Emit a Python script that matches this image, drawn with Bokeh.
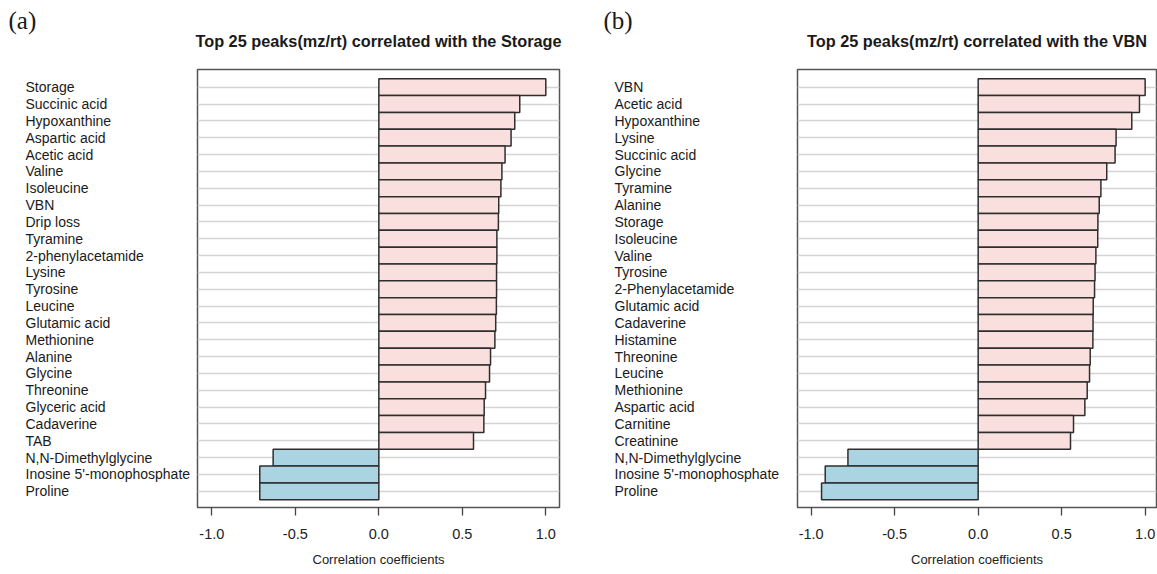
from bokeh.plotting import figure
from bokeh.models import ColumnDataSource, FixedTicker, NumeralTickFormatter, Range1d
from bokeh.layouts import row, column
from bokeh.core.properties import value
from bokeh.embed import file_html
from bokeh.resources import INLINE

# ---- data ----
storage_names = ["Storage", "Succinic acid", "Hypoxanthine", "Aspartic acid", "Acetic acid",
                 "Valine", "Isoleucine", "VBN", "Drip loss", "Tyramine", "2-phenylacetamide",
                 "Lysine", "Tyrosine", "Leucine", "Glutamic  acid", "Methionine", "Alanine",
                 "Glycine", "Threonine", "Glyceric acid", "Cadaverine", "TAB",
                 "N,N-Dimethylglycine", "Inosine 5'-monophosphate", "Proline"]
storage_values = [1.0, 0.844, 0.814, 0.792, 0.756, 0.737, 0.731, 0.718, 0.716, 0.707, 0.707,
                  0.705, 0.705, 0.704, 0.700, 0.695, 0.669, 0.663, 0.639, 0.631, 0.629, 0.567,
                  -0.633, -0.713, -0.713]

vbn_names = ["VBN", "Acetic acid", "Hypoxanthine", "Lysine", "Succinic acid", "Glycine",
             "Tyramine", "Alanine", "Storage", "Isoleucine", "Valine", "Tyrosine",
             "2-Phenylacetamide", "Glutamic  acid", "Cadaverine", "Histamine", "Threonine",
             "Leucine", "Methionine", "Aspartic acid", "Carnitine", "Creatinine",
             "N,N-Dimethylglycine", "Inosine 5'-monophosphate", "Proline"]
vbn_values = [1.0, 0.966, 0.920, 0.826, 0.820, 0.770, 0.735, 0.725, 0.717, 0.716, 0.705, 0.700,
              0.697, 0.689, 0.688, 0.687, 0.671, 0.667, 0.653, 0.639, 0.571, 0.553,
              -0.780, -0.916, -0.938]

panel_tags = ["(a)", "(b)"]
panel_titles = ["Top 25 peaks(mz/rt) correlated with the Storage",
                "Top 25 peaks(mz/rt) correlated with the VBN"]
x_ticks = [-1.0, -0.5, 0.0, 0.5, 1.0]

# ---- styling / layout ----
POS = "#F9E0DF"
NEG = "#AAD4E1"
FONT = "Liberation Sans"
STRIP_H = 55                      # header strip holding the tags and titles
TOP, FRAME_H, BOTTOM = 14, 438, 67
Y_RANGE = (0.04, 26.05)
W_LA, BL_A, FW_A, BR_A = 192, 5, 362, 24
W_LB, BL_B, FW_B, BR_B = 209, 5, 359, 1
TOTAL_W = W_LA + BL_A + FW_A + BR_A + W_LB + BL_B + FW_B + BR_B


def rows_of(names):
    n = len(names)
    return [n - i for i in range(n)]


def label_panel(names, width, label_x):
    ys = rows_of(names)
    src = ColumnDataSource(dict(name=names, y=ys, x=[label_x] * len(ys)))
    p = figure(frame_width=width, frame_height=FRAME_H,
               min_border_left=0, min_border_right=0,
               min_border_top=TOP, min_border_bottom=BOTTOM,
               x_range=Range1d(0, width), y_range=Range1d(*Y_RANGE),
               output_backend="svg", toolbar_location=None)
    p.axis.visible = False
    p.grid.visible = False
    p.outline_line_color = None
    p.text(x="x", y="y", text="name", source=src, text_align="left",
           text_baseline="middle", text_font=value(FONT), text_font_size="14px",
           text_color="#1a1a1a")
    return p


def bar_panel(names, values, border_left, frame_w, border_right, x_start, x_end):
    ys = rows_of(names)
    src = ColumnDataSource(dict(
        name=names, y=ys,
        left=[min(0.0, v) for v in values],
        right=[max(0.0, v) for v in values],
        color=[POS if v > 0 else NEG for v in values],
    ))
    p = figure(frame_width=frame_w, frame_height=FRAME_H,
               min_border_left=border_left, min_border_right=border_right,
               min_border_top=TOP, min_border_bottom=BOTTOM,
               x_range=Range1d(x_start, x_end), y_range=Range1d(*Y_RANGE),
               output_backend="svg", toolbar_location=None)

    p.hbar(y="y", left="left", right="right", height=1, fill_color="color",
           line_color="#2e2e2e", line_width=1.5, source=src)

    p.yaxis.visible = False
    p.xgrid.visible = False
    p.ygrid.ticker = FixedTicker(ticks=ys)
    p.ygrid.grid_line_color = "#D4D4D4"
    p.ygrid.grid_line_width = 1.6

    p.outline_line_color = "#555555"
    p.outline_line_width = 1.5
    p.outline_line_alpha = 1.0

    ax = p.xaxis[0]
    ax.ticker = FixedTicker(ticks=x_ticks)
    ax.formatter = NumeralTickFormatter(format="0.0")
    ax.axis_line_color = None
    ax.major_tick_line_color = "#444444"
    ax.major_tick_line_width = 1.3
    ax.major_tick_out = 8
    ax.major_tick_in = 0
    ax.minor_tick_line_color = None
    ax.major_label_text_font = FONT
    ax.major_label_text_font_size = "14.5px"
    ax.major_label_text_color = "#222222"
    ax.major_label_standoff = 13
    ax.axis_label = "Correlation coefficients"
    ax.axis_label_text_font = FONT
    ax.axis_label_text_font_size = "13px"
    ax.axis_label_text_font_style = "normal"
    ax.axis_label_text_color = "#222222"
    ax.axis_label_standoff = 10
    return p


# header strip: panel tags and centred panel titles (screen-like coordinates, y down)
frame_a_center = W_LA + BL_A + FW_A / 2
frame_b_center = W_LA + BL_A + FW_A + BR_A + W_LB + BL_B + FW_B / 2
header = figure(frame_width=TOTAL_W, frame_height=STRIP_H,
                min_border_left=0, min_border_right=0, min_border_top=0, min_border_bottom=0,
                x_range=Range1d(0, TOTAL_W), y_range=Range1d(STRIP_H, 0),
                output_backend="svg", toolbar_location=None)
header.axis.visible = False
header.grid.visible = False
header.outline_line_color = None
tag_src = ColumnDataSource(dict(text=panel_tags, x=[8, W_LA + BL_A + FW_A + BR_A + 20], y=[20, 20]))
header.text(x="x", y="y", text="text", source=tag_src, text_align="left",
            text_baseline="middle", text_font=value("Liberation Serif"),
            text_font_size="25px", text_color="#1a1a1a")
title_src = ColumnDataSource(dict(text=panel_titles, x=[frame_a_center, frame_b_center], y=[40, 40]))
header.text(x="x", y="y", text="text", source=title_src, text_align="center",
            text_baseline="middle", text_font=value(FONT), text_font_size="16.3px",
            text_font_style="bold", text_color="#1a1a1a")

la = label_panel(storage_names, W_LA, 25)
pa = bar_panel(storage_names, storage_values, BL_A, FW_A, BR_A, -1.086, 1.082)
lb = label_panel(vbn_names, W_LB, 31)
pb = bar_panel(vbn_names, vbn_values, BL_B, FW_B, BR_B, -1.082, 1.068)

layout = column(header, row(la, pa, lb, pb))
open("out.html", "w").write(file_html(layout, INLINE))
